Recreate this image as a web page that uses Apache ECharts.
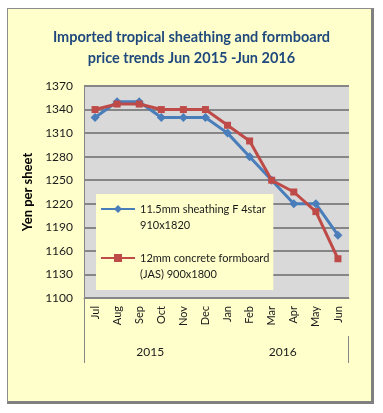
<!DOCTYPE html>
<html>
<head>
<meta charset="utf-8">
<script src="https://cdn.jsdelivr.net/npm/echarts@6/dist/echarts.min.js"></script>
<style>
html,body{margin:0;padding:0;background:#ffffff;}
#frame{position:absolute;left:7px;top:8px;width:363px;height:392px;background:#ffffcc;border-left:1px solid #8c8c8c;border-top:1px solid #8c8c8c;border-right:3px solid #808080;border-bottom:3px solid #808080;}
#chart{position:absolute;left:0;top:0;width:383px;height:413px;}
</style>
</head>
<body>
<div id="frame"></div>
<div id="chart"></div>
<script>
const months = ['Jul','Aug','Sep','Oct','Nov','Dec','Jan','Feb','Mar','Apr','May','Jun'];
const years = ['2015','2016'];
const sheathingName = '11.5mm sheathing F 4star\n910x1820';
const formboardName = '12mm concrete formboard\n(JAS) 900x1800';
const sheathing = [1330,1350,1350,1330,1330,1330,1310,1280,1250,1220,1220,1180];
const formboard = [1340,1347,1347,1340,1340,1340,1320,1300,1250,1235,1210,1150];
const yMin = 1100, yMax = 1370, yStep = 30;

const FONT = 'Lato';
const chart = echarts.init(document.getElementById('chart'), null, {renderer:'canvas'});
chart.setOption({
  backgroundColor: 'transparent',
  animation: false,
  title: {
    text: 'Imported tropical sheathing and formboard\nprice trends Jun 2015 -Jun 2016',
    left: 'center',
    top: 22,
    textStyle: {fontFamily: FONT, fontWeight: 'bold', fontSize: 14.5, color: '#1f497d', lineHeight: 21}
  },
  grid: {left: 84, right: 34, top: 86, bottom: 115, show: true, backgroundColor: '#d9d9d9', borderWidth: 0},
  legend: {
    orient: 'vertical',
    left: 96, top: 194,
    padding: [-9, 4, 8, 4],
    backgroundColor: '#ffffcc',
    itemWidth: 34, itemHeight: 10, itemGap: 1,
    formatter: function (n) { return '\n' + n; },
    textStyle: {fontFamily: FONT, fontSize: 11, color: '#1a1a1a', lineHeight: 16},
    data: [sheathingName, formboardName]
  },
  xAxis: [{
    type: 'category', data: months, boundaryGap: true,
    axisLine: {lineStyle: {color: '#868686', width: 1}},
    axisTick: {show: false},
    axisLabel: {rotate: 90, margin: 8, fontFamily: FONT, fontSize: 11, color: '#1a1a1a'}
  },{
    type: 'category', data: years, boundaryGap: true, position: 'bottom', offset: 40,
    axisLine: {show: false}, axisTick: {show: false},
    axisLabel: {margin: 8, fontFamily: FONT, fontSize: 12, color: '#1a1a1a'}
  }],
  yAxis: {
    type: 'value', min: yMin, max: yMax, interval: yStep,
    name: 'Yen per sheet', nameLocation: 'middle', nameRotate: 90, nameGap: 42,
    nameTextStyle: {fontFamily: FONT, fontWeight: 'bold', fontSize: 13, color: '#000'},
    axisLine: {show: true, lineStyle: {color: '#868686', width: 1}},
    axisTick: {show: false},
    axisLabel: {margin: 11, fontFamily: FONT, fontSize: 12, color: '#1a1a1a', formatter: function (v) { return String(v); }},
    splitLine: {lineStyle: {color: '#868686', width: 2}}
  },
  graphic: [
    {type: 'line', shape: {x1: 84.5, y1: 298, x2: 84.5, y2: 363}, style: {stroke: '#868686', lineWidth: 1}},
    {type: 'line', shape: {x1: 348.5, y1: 336, x2: 348.5, y2: 363}, style: {stroke: '#868686', lineWidth: 1}}
  ],
  series: [{
    name: sheathingName, type: 'line', data: sheathing,
    symbol: 'diamond', symbolSize: 9,
    lineStyle: {color: '#4a7ebb', width: 3},
    itemStyle: {color: '#4a7ebb'}
  },{
    name: formboardName, type: 'line', data: formboard,
    symbol: 'rect', symbolSize: 7,
    lineStyle: {color: '#be4b48', width: 3},
    itemStyle: {color: '#be4b48'}
  }]
});
</script>
</body>
</html>
